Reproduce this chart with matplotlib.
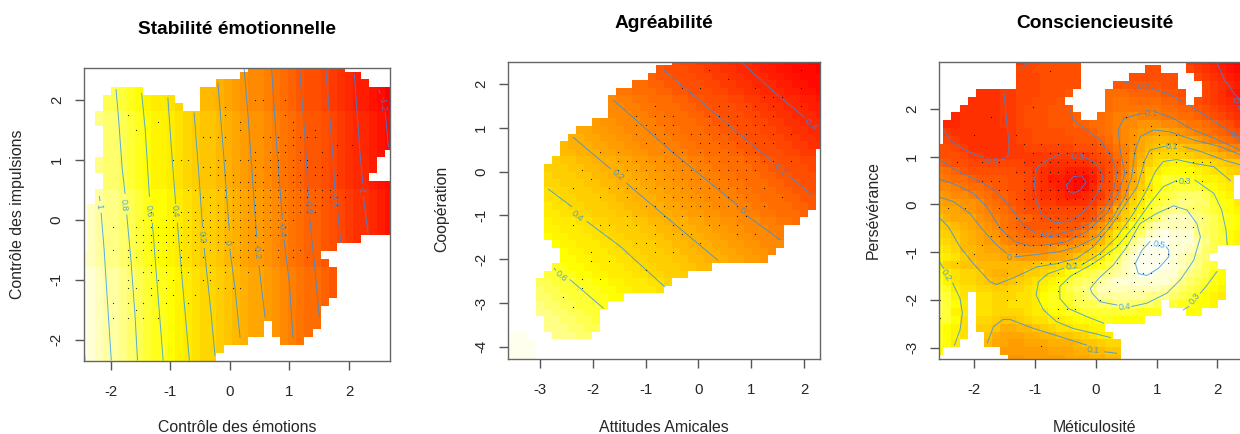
import numpy as np
import matplotlib
matplotlib.use("Agg")
import matplotlib.pyplot as plt
from matplotlib.colors import LinearSegmentedColormap

plt.rcParams["font.family"] = ["Liberation Sans", "DejaVu Sans"]
plt.rcParams["axes.unicode_minus"] = False

# -----------------------------
# Data
# -----------------------------
# surfaces: one character per grid cell, 0 = red ... q = yellow ... z = white
ALPHABET = "0123456789abcdefghijklmnopqrstuvwxyz"

stab_a = "wvuttsrqpoonmlkjjihgfeedcba988765433210"
stab_b = "xwvuutsrqpponmlkkjihgffedcba99876544321"
stab_c = "yxwvvutsrqqponmllkjihggfedcbaa987655432"
stab_d = "zyxwwvutsrrqponmmlkjihhgfedcbba98766543"
stab_rows = [stab_a] * 6 + [stab_b] * 10 + [stab_c] * 10 + [stab_d] * 13
stab_spans = [
    [(21, 32)], [(20, 34)], [(17, 35)], [(4, 7), (15, 38)], [(3, 11), (15, 38)],
    [(3, 12), (15, 38)], [(2, 38)], [(2, 38)], [(3, 38)], [(3, 38)], [(3, 38)],
    [(3, 37)], [(2, 36)], [(2, 36)], [(3, 35)], [(3, 38)], [(2, 38)], [(2, 38)],
    [(1, 38)], [(1, 38)], [(1, 38)], [(1, 38)], [(1, 34)], [(1, 31)], [(0, 29)],
    [(0, 30)], [(0, 31)], [(0, 31)], [(0, 31)], [(0, 31)], [(0, 30)], [(0, 29)],
    [(0, 29)], [(0, 22), (24, 29)], [(0, 22), (24, 28)], [(0, 20), (25, 27)],
    [(0, 17)], [(0, 16)], [(0, 16)],
]

agre_rows = [
    "hggffeeeddccbbbaa99888776655444332211100",
    "hhggffeeeddccbbbaa9988877665544433221110",
    "ihhggffeeeddccbbbaa998887766554443322111",
    "iihhggffeeeddccbbbaa99888776655444332211",
    "iiihhggffeeeddccbbbaa9988877665544433221",
    "jjiiihhggffeeeddccbbbaa99888776655444332",
    "kjjiiihhggffeeeddccbbbaa9988877665544433",
    "kkjjiiihhggffeeeddccbbbaa998887766554443",
    "lkkjjiiihhggffeeeddccbbbaa99888776655444",
    "llkkjjiiihhggffeeeddccbbbaa9988877665544",
    "lllkkjjiiihhggffeeeddccbbbaa998887766554",
    "mlllkkjjiiihhggffeeeddccbbbaa99888776655",
    "mmlllkkjjiiihhggffeeeddccbbbaa9988877665",
    "nnmmlllkkjjiiihhggffeeeddccbbbaa99888776",
    "onnmmlllkkjjiiihhggffeeeddccbbbaa9988877",
    "oonnmmlllkkjjiiihhggffeeeddccbbbaa998887",
    "ooonnmmlllkkjjiiihhggffeeeddccbbbaa99888",
    "pooonnmmlllkkjjiiihhggffeeeddccbbbaa9988",
    "ppooonnmmlllkkjjiiihhggffeeeddccbbbaa998",
    "qppooonnmmlllkkjjiiihhggffeeeddccbbbaa99",
    "qqppooonnmmlllkkjjiiihhggffeeeddccbbbaa9",
    "rrqqppooonnmmlllkkjjiiihhggffeeeddccbbba",
    "srrqqppooonnmmlllkkjjiiihhggffeeeddccbbb",
    "ssrrqqppooonnmmlllkkjjiiihhggffeeeddccbb",
    "sssrrqqppooonnmmlllkkjjiiihhggffeeeddccb",
    "tsssrrqqppooonnmmlllkkjjiiihhggffeeeddcc",
    "ttsssrrqqppooonnmmlllkkjjiiihhggffeeeddc",
    "uttsssrrqqppooonnmmlllkkjjiiihhggffeeedd",
    "uuttsssrrqqppooonnmmlllkkjjiiihhggffeeed",
    "vvuuttsssrrqqppooonnmmlllkkjjiiihhggffee",
    "vvvuuttsssrrqqppooonnmmlllkkjjiiihhggffe",
    "wvvvuuttsssrrqqppooonnmmlllkkjjiiihhggff",
    "wwvvvuuttsssrrqqppooonnmmlllkkjjiiihhggf",
    "xwwvvvuuttsssrrqqppooonnmmlllkkjjiiihhgg",
    "xxwwvvvuuttsssrrqqppooonnmmlllkkjjiiihhg",
    "yxxwwvvvuuttsssrrqqppooonnmmlllkkjjiiihh",
    "zzzxwwvvvuuttsssrrqqppooonnmmlllkkjjiiih",
    "zzzzxxwwvvvuuttsssrrqqppooonnmmlllkkjjii",
    "zzzzyxxwwvvvuuttsssrrqqppooonnmmlllkkjji",
    "zzzzyyxxwwvvvuuttsssrrqqppooonnmmlllkkjj",
]
agre_spans = [
    [(21, 39)], [(19, 39)], [(18, 39)], [(16, 39)], [(14, 39)], [(13, 39)], [(13, 39)],
    [(13, 39)], [(11, 39)], [(9, 39)], [(8, 39)], [(7, 39)], [(7, 38)], [(6, 38)],
    [(5, 38)], [(5, 38)], [(5, 38)], [(5, 38)], [(5, 38)], [(5, 38)], [(5, 37)],
    [(5, 36)], [(5, 34)], [(5, 34)], [(6, 34)], [(7, 33)], [(7, 32)], [(6, 25)],
    [(5, 22)], [(4, 20)], [(4, 19)], [(4, 14)], [(4, 12)], [(4, 11)], [(5, 11)],
    [(5, 11)], [(0, 2), (6, 10)], [(0, 3)], [(0, 3)], [(0, 3)],
]

cons_rows = [
    "6666666666" + "67788888" + "8888888888888" + "6543210",
    "7777777777" + "77888888" + "88888888" + "88" + "888" + "7654321",
    "7777777777" + "77788888" + "888888" + "888888" + "88" + "765432",
    "7777777777" + "77788888" + "8888" + "99999988" + "888" + "76543",
    "55555" + "555667778889" + "aaaa" + "bbbaaaa998" + "88" + "76532",
    "5555" + "555566778889" + "aaaaa" + "bccbbbbaa9" + "9" + "876543",
    "555" + "55555667888999" + "aaaa" + "bccccccbbaa987654",
    "44" + "455555667888999a" + "aa" + "bcddedddccbba98765",
    "4" + "4455555667888999aabbcdeefffeedccba986",
    "7" + "655555556778888999abcdefgghhgfedcba98",
    "8" + "7655555567788888999abdefhijjihhgedcba",
    "887655555667777778889acdfhjkllkjjihfed",
    "888766555" + "6666666666" + "789bd" + "gik" + "mmmm" + "lk" + "kjihg",
    "a988" + "7777777" + "666" + "55555" + "678ad" + "gjln" + "oppo" + "nnmlkk",
    "cba9" + "888888" + "7765" + "44333468ad" + "hkno" + "qqqq" + "ponnml",
    "dcbba" + "9999" + "88" + "765" + "33211" + "368" + "beh" + "koq" + "ss" + "rr" + "q" + "pp" + "o" + "nn",
    "eedcbb" + "a99" + "88" + "765" + "4321" + "14" + "78" + "ae" + "il" + "nqr" + "ssss" + "rqpoo",
    "gfeedcbaa9" + "8765543345" + "69cfknprst" + "uuutrqpo",
    "hggffecba9" + "8776655556" + "8aeimorstu" + "vvuusrqo",
    "ihhgfedcba" + "9887777778" + "bdiknprtuv" + "vuutsrqp",
    "kihhhfedcb" + "aa98888889" + "cfilorsuwx" + "xxvutsrq",
    "lkjihgfecb" + "a9999999ad" + "filnrsvxxx" + "xxvutsrq",
    "mlkjihgfdc" + "baaaaaabdf" + "hloqsuxyzy" + "yyvutsqp",
    "nmljihgged" + "ccccccdefh" + "jmprvxzzzy" + "yywvtsqp",
    "onmjjihhgf" + "eeeefgghik" + "moruxyzzzy" + "yxwutrqp",
    "ponljiiihh" + "gggghhiklm" + "ortwyzzzzy" + "xwvutsrq",
    "omlkkjjjjj" + "jjkllmmnoq" + "rtvxyzzzzy" + "xwvtsrqp",
    "qonmmljiij" + "jllmnoqrst" + "uvwxyzzyyy" + "wvutrqpo",
    "rpnmmlkjjk" + "lmnopqstuu" + "wxyyyyyyyx" + "vutsrqpo",
    "sronnmmllm" + "mnopqrtuvv" + "xxxxxxxxwv" + "utsrqpoo",
    "tspnnnnmmm" + "nnoqrrstuv" + "wwwwwwvvvu" + "tsrqpooo",
    "tsqoonnmmn" + "nnoqrrrttt" + "uuvvuuutts" + "rrqqpooo",
    "tspoonnmmm" + "mnooqqrrss" + "sssssrrrqq" + "qqqpoooo",
    "ssqnnmmlkk" + "lmnnoopqqq" + "rrqqqqpppp" + "pppppppp",
    "rqpnmllkii" + "jjklmnnoop" + "pppppppppp" + "pppppppp",
    "rqpnmlkihh" + "hiijjkklmn" + "oooooooooo" + "oooooooo",
    "rqonmljhhg" + "ghhhiiijkk" + "lmmmmmmmmm" + "mmmmmmmm",
    "qponmljhgg" + "gggghhhiij" + "jkkkkkkkkk" + "kkkkkkkk",
    "ppppppppgf" + "fggggghhhi" + "ijjjjjjjjj" + "jjjjjjjj",
]
cons_spans = [
    [(10, 17), (31, 37)], [(10, 17), (26, 27), (31, 37)], [(10, 17), (24, 29), (32, 37)],
    [(10, 17), (22, 29), (33, 37)], [(5, 16), (21, 30), (33, 37)], [(4, 15), (21, 30), (32, 37)],
    [(3, 16), (21, 37)], [(2, 17), (20, 37)], [(1, 37)], [(1, 37)], [(1, 37)], [(0, 37)],
    [(0, 37)], [(0, 37)], [(0, 37)], [(0, 36)], [(0, 36)], [(0, 36)], [(0, 37)], [(0, 37)],
    [(0, 37)], [(0, 37)], [(0, 37)], [(0, 37)], [(0, 34)], [(0, 33)], [(0, 34)], [(0, 35)],
    [(0, 35)], [(0, 35)], [(0, 3), (5, 35)], [(0, 3), (5, 27), (29, 34)], [(0, 3), (5, 27), (31, 32)],
    [(0, 3), (5, 25)], [(0, 3), (5, 20)], [(0, 3), (6, 21)], [(0, 2), (6, 22)], [(0, 0), (8, 22)],
    [(9, 22)],
]

# contour lines, (xs, ys) in data units, broken where a label sits
stab_lines = [
    ([-2.19, -2.18], [0.39, 0.32]),
    ([-2.16, -2.11, -2.06, -1.99], [0.11, -0.50, -1.28, -2.34]),
    ([-2.46, -2.43], [-2.01, -2.34]),
    ([-1.91, -1.87, -1.81, -1.76], [2.17, 1.72, 0.89, 0.44]),
    ([-1.73, -1.66, -1.59, -1.55], [0.08, -0.67, -1.62, -2.34]),
    ([-1.48, -1.42, -1.35], [2.11, 1.50, 0.39]),
    ([-1.30, -1.23, -1.12], [-0.06, -0.95, -2.34]),
    ([-1.04, -0.98, -0.91], [2.03, 1.17, 0.27]),
    ([-0.88, -0.78, -0.68], [-0.06, -1.23, -2.34]),
    ([-0.60, -0.53, -0.46], [1.78, 0.89, -0.11]),
    ([-0.43, -0.32, -0.25], [-0.48, -1.51, -2.26]),
    ([-0.20, -0.12, -0.01], [2.28, 1.28, -0.17]),
    ([0.00, 0.09, 0.17], [-0.49, -1.17, -1.96]),
    ([0.24, 0.31, 0.45], [2.53, 1.67, -0.28]),
    ([0.49, 0.59], [-0.78, -1.62]),
    ([0.70, 0.79, 0.88], [2.53, 1.17, 0.02]),
    ([0.91, 1.00, 1.06], [-0.34, -1.06, -1.96]),
    ([1.17, 1.26, 1.32], [2.53, 1.39, 0.39]),
    ([1.34, 1.43, 1.50], [0.02, -0.84, -1.62]),
    ([1.61, 1.74, 1.76], [2.53, 0.94, 0.50]),
    ([1.81, 1.86], [0.14, -0.37]),
    ([2.09, 2.18, 2.23], [2.42, 1.17, 0.61]),
    ([2.24, 2.32], [0.39, -0.23]),
    ([2.50, 2.52], [2.17, 2.11]),
    ([2.61, 2.66], [1.78, 1.22]),
]
stab_labels = [
    ("1", -2.20, 0.22, -85), ("0.8", -1.78, 0.25, -85), ("0.6", -1.36, 0.15, -85),
    ("0.4", -0.93, 0.15, -85), ("0.2", -0.47, -0.29, -85), ("0", -0.04, -0.37, -85),
    ("-0.2", 0.45, -0.53, -85), ("-0.4", 0.87, -0.16, -85), ("-0.6", 1.30, 0.22, -85),
    ("-0.8", 1.75, 0.33, -85), ("-1", 2.21, 0.50, -85), ("-1.2", 2.56, 1.94, -85),
]

agre_lines = [
    ([0.80, 1.43, 2.00], [2.51, 1.82, 1.25]),
    ([-0.66, 0.35, 1.36], [2.32, 1.29, 0.26]),
    ([1.71, 2.15], [-0.10, -0.53]),
    ([-1.61, -0.47, 0.73], [1.63, 0.42, -0.76]),
    ([0.92, 1.55], [-1.01, -1.56]),
    ([-2.37, -1.67], [0.78, 0.07]),
    ([-1.36, -0.47, 0.36], [-0.27, -1.18, -2.02]),
    ([-2.84, -2.40], [-0.40, -0.80]),
    ([-2.11, -1.48, -0.64], [-1.14, -1.71, -2.63]),
    ([-2.73, -2.70], [-2.21, -2.25]),
    ([-2.43, -1.80], [-2.47, -3.12]),
]
agre_labels = [
    ("-0.4", 2.12, 1.09, -40), ("-0.2", 1.52, 0.05, -40), ("0", 0.83, -0.90, -40),
    ("0.2", -1.53, -0.09, -40), ("0.4", -2.29, -1.01, -40), ("0.6", -2.61, -2.38, -40),
]

cons_lines = [
    ([-0.48, -0.37, -0.23, -0.16, -0.26, -0.37, -0.46, -0.48], [0.41, 0.58, 0.60, 0.46, 0.30, 0.23, 0.29, 0.41]),
    ([-0.20, -0.04, 0.08, 0.12, 0.07, -0.04, -0.23, -0.45, -0.67, -0.89, -0.98, -1.01, -0.97, -0.80, -0.56, -0.46],
     [0.99, 0.90, 0.72, 0.55, 0.34, 0.09, -0.19, -0.36, -0.38, -0.22, 0.09, 0.48, 0.76, 0.93, 1.07, 1.06]),
    ([-2.50, -2.39, -2.20, -1.98, -1.85], [1.56, 1.35, 1.18, 1.04, 0.99]),
    ([-1.58, -1.45, -1.42, -1.46, -1.51], [0.93, 1.00, 1.21, 1.70, 2.36]),
    ([-2.57, -2.39, -2.18, -1.90, -1.63, -1.41, -1.19, -1.00], [0.95, 0.79, 0.64, 0.48, 0.27, -0.05, -0.43, -0.59]),
    ([-0.64, -0.37, -0.09, 0.13, 0.29, 0.35, 0.26, 0.07, -0.15, -0.37, -0.42],
     [-0.63, -0.54, -0.40, -0.12, 0.30, 0.65, 1.00, 1.35, 1.56, 1.77, 1.98]),
    ([-2.57, -2.29, -2.01, -1.79, -1.57, -1.33, -1.08, -0.80, -0.48, -0.15, 0.18, 0.37, 0.48, 0.40, 0.37, 0.46, 0.76],
     [0.53, 0.41, 0.23, -0.05, -0.50, -0.78, -0.87, -0.85, -0.78, -0.57, -0.19, 0.23, 0.65, 1.14, 1.56, 1.80, 1.91]),
    ([1.00, 1.28, 1.55, 1.94, 2.37], [1.93, 1.80, 1.59, 1.39, 1.14]),
    ([-2.57, -2.34, -2.07, -1.85, -1.63, -1.46], [0.15, 0.06, -0.19, -0.54, -0.85, -1.03]),
    ([-1.33, -0.97, -0.59, -0.31, 0.02, 0.29, 0.48, 0.59, 0.65, 0.73, 0.95, 1.22, 1.61, 2.05, 2.37],
     [-1.10, -1.05, -0.99, -0.89, -0.68, -0.26, 0.16, 0.58, 1.14, 1.42, 1.56, 1.52, 1.35, 1.21, 1.04]),
    ([-2.57, -2.42, -2.23, -2.01, -1.74, -1.63, -1.30, -0.97, -0.64, -0.31, -0.04, 0.24, 0.46, 0.68, 0.81, 0.89, 1.14],
     [-0.28, -0.47, -0.89, -1.24, -1.62, -1.68, -1.51, -1.31, -1.24, -1.13, -0.89, -0.47, -0.05, 0.37, 0.93, 1.14, 1.22]),
    ([1.44, 1.72, 2.10, 2.37], [1.21, 1.11, 0.93, 0.83]),
    ([0.24, -0.04, -0.37, -0.64, -0.86, -0.98, -0.94, -0.78, -0.53], [-2.79, -2.70, -2.60, -2.46, -2.21, -1.90, -1.62, -1.45, -1.34]),
    ([-0.23, 0.07, 0.35, 0.62, 0.84, 0.98, 1.11, 1.33, 1.61, 1.94, 2.21],
     [-1.27, -1.03, -0.68, -0.19, 0.30, 0.69, 0.90, 0.94, 0.86, 0.79, 0.50]),
    ([2.16, 2.14, 2.07, 1.94, 1.63], [-0.85, -0.54, -0.12, 0.23, 0.51]),
    ([1.33, 1.11, 0.89, 0.62, 0.35, -0.04, -0.42, -0.59, -0.59, -0.45, -0.15, 0.13],
     [0.50, 0.37, 0.02, -0.47, -0.89, -1.24, -1.51, -1.72, -1.97, -2.18, -2.35, -2.49]),
    ([1.99, 1.83, 1.72], [-1.41, -1.69, -1.86]),
    ([1.53, 1.44], [-2.14, -2.21]),
    ([0.35, 0.07, -0.06, -0.09, 0.05, 0.29, 0.51, 0.73, 1.00, 1.28, 1.50, 1.66, 1.72, 1.61, 1.39, 1.17, 0.84, 0.59],
     [-2.11, -2.04, -1.86, -1.76, -1.55, -1.27, -0.89, -0.40, -0.19, -0.03, -0.12, -0.40, -0.68, -1.17, -1.58, -1.86, -2.07, -2.14]),
    ([0.89, 0.76, 0.65, 0.70, 0.84, 1.03, 1.20, 1.20, 1.16], [-0.78, -0.96, -1.24, -1.45, -1.49, -1.34, -1.10, -0.96, -0.89]),
    ([-2.57, -2.50], [-1.20, -1.34]),
    ([-2.35, -2.23, -2.19, -2.23, -2.32], [-1.65, -1.97, -2.28, -2.63, -2.95]),
    ([-1.78, -1.68, -1.52, -1.41, -1.02, -0.59, -0.15], [-2.90, -2.56, -2.41, -2.41, -2.60, -2.77, -2.95]),
    ([0.15, 0.34], [-3.09, -3.12]),
    ([-1.25, -1.08], [2.82, 2.99]),
    ([0.48, 0.62], [2.56, 2.52]),
    ([0.92, 1.17, 1.43], [2.43, 2.33, 2.15]),
    ([1.53, 1.83, 2.16, 2.37], [2.08, 1.84, 1.56, 1.39]),
    ([1.99, 2.10, 2.27, 2.37], [2.99, 2.64, 2.33, 2.19]),
]
cons_labels = [
    ("-0.3", -0.32, 1.00, -10), ("-0.3", -1.72, 0.91, -10), ("-0.2", -0.80, -0.64, 0),
    ("-0.1", 0.89, 1.90, 0), ("0", -1.42, -1.11, 0), ("0.1", 1.25, 1.21, 0),
    ("0.2", -0.38, -1.31, 10), ("0.3", 1.47, 0.48, 0), ("0.4", 0.47, -2.16, 5),
    ("0.5", 1.04, -0.85, -10), ("0.2", -2.46, -1.48, -60), ("0.1", -0.04, -3.05, -5),
    ("-0.2", 0.77, 2.47, -10), ("0.3", 1.63, -1.97, 50), ("-0.2", 2.30, 1.42, -30),
    ("-0.4", 2.31, 2.12, -60),
]

# observed points: for each lattice row, which lattice columns hold a dot
stab_dots = [
    [19, 20, 23], [15], [2, 15, 23], [6, 17, 24], [3, 17, 24, 27],
    [12, 13, 14, 15, 20, 21, 22, 24, 25, 26, 27], [23, 24, 30, 32], [19, 21, 22, 23, 25, 28],
    [8, 9, 10, 14, 15, 17, 18, 19, 21, 22, 24, 25, 26], [12, 13, 14, 19, 20, 21, 22, 23, 24, 26, 27, 28],
    [13, 14, 15, 16, 19, 21, 22, 23, 24, 25, 27, 28, 30], [16, 17, 18, 19, 20, 22, 24, 25],
    [10, 11, 14, 15, 16, 17, 18, 19, 20, 21, 22, 23, 24, 25, 26, 27, 28, 29],
    [12, 13, 15, 16, 17, 18, 19, 20, 21, 22, 23, 24, 25, 26, 27, 28, 29, 30, 31],
    [13, 14, 16, 17, 18, 19, 20, 21, 22, 23, 24, 25, 26, 27, 28, 30],
    [5, 8, 9, 10, 11, 13, 14, 15, 16, 17, 18, 19, 20, 21, 22, 23, 24, 25, 26, 27],
    [4, 5, 7, 8, 10, 11, 12, 13, 14, 15, 16, 17, 18, 19, 20, 21, 22, 23, 24],
    [0, 3, 5, 6, 7, 8, 9, 10, 11, 12, 13, 14, 15, 16, 17, 18, 19, 20, 21, 22, 23],
    [3, 4, 5, 6, 7, 8, 9, 10, 11, 12, 13, 14, 15, 17, 18, 19, 20, 21, 22, 23],
    [3, 4, 5, 6, 7, 8, 9, 10, 11, 12, 13, 14, 15, 16, 17, 18, 19, 20],
    [0, 2, 4, 5, 6, 7, 9, 11, 13, 14, 15, 17, 18, 19, 20, 22, 24, 25],
    [2, 3, 6, 7, 9, 10, 12, 16, 17, 18, 22, 24, 26], [2, 5, 7, 9, 11, 13, 15, 17, 20],
    [4, 5, 7, 9, 10, 13, 15, 18], [2, 6, 8, 12, 13], [2, 3, 5, 7, 14, 15, 16, 17], [5, 8, 11],
    [0, 2, 4, 7, 10], [3], [0, 2, 4, 6],
]
agre_dots = [
    [16, 26], [18], [13, 15, 21, 26], [22, 23, 24], [10, 17, 18, 20, 21, 23, 26],
    [8, 10, 11, 12, 16, 17, 18, 19, 21, 23], [8, 9, 10, 11, 12, 16, 17, 18, 19, 20, 21, 22],
    [8, 10, 11, 12, 14, 15, 16, 17, 18, 19, 20, 21, 23, 25], [9, 11, 15, 16, 17, 18, 19, 20, 21, 22, 23],
    [4, 6, 11, 12, 13, 15, 16, 17, 18, 19, 20, 21],
    [6, 7, 8, 9, 10, 11, 12, 13, 14, 15, 16, 17, 18, 19, 20, 21, 22, 23, 25],
    [2, 6, 7, 8, 9, 10, 11, 12, 13, 14, 15, 16, 17, 18, 19, 20, 21],
    [3, 8, 9, 10, 11, 12, 13, 14, 15, 16, 17, 18, 19, 20],
    [1, 5, 6, 7, 8, 9, 10, 11, 12, 13, 14, 15, 16, 17, 18, 19, 20, 22],
    [4, 7, 11, 12, 13, 14, 15, 16, 17, 18, 19, 20, 24],
    [9, 10, 11, 12, 13, 14, 15, 16, 17, 18, 19, 20, 22], [7, 8, 11, 13, 15, 16, 19, 20],
    [1, 4, 5, 7, 8, 10, 12, 13, 16, 17, 19], [10, 12, 13, 14, 19, 21], [8, 9, 10, 15], [3, 10, 12],
    [3, 5], [9], [2, 4], [2], [0], [1],
]
cons_dots = [
    [13], [], [], [], [11], [6, 22], [25], [4, 9, 23, 26, 28],
    [10, 12, 14, 16, 18, 19, 22, 23, 26, 27, 28],
    [11, 13, 14, 15, 16, 17, 18, 19, 20, 22, 23, 25, 26, 27, 28, 29],
    [2, 5, 7, 10, 11, 12, 13, 14, 15, 16, 17, 18, 19, 20, 21, 22, 24, 28, 30, 31, 32],
    [9, 10, 11, 12, 13, 14, 15, 16, 17, 18, 19, 20, 21, 22, 23, 24, 29, 30],
    [5, 6, 7, 10, 11, 12, 13, 14, 15, 16, 17, 18, 19, 20, 21, 22, 23, 28, 29, 31],
    [7, 8, 10, 11, 12, 13, 14, 15, 16, 17, 18, 19, 20, 21, 22, 24, 25, 31],
    [9, 10, 11, 12, 13, 14, 15, 16, 17, 18, 19, 20, 21, 22, 23, 24, 26, 27, 29],
    [1, 3, 7, 10, 11, 12, 13, 14, 15, 16, 17, 18, 19, 20, 21, 22, 23, 24, 25, 27, 28, 30],
    [9, 10, 11, 12, 13, 14, 15, 16, 17, 18, 19, 20, 21, 22, 23, 24, 25, 26, 27, 28, 29, 31],
    [7, 8, 9, 10, 13, 14, 15, 16, 17, 18, 19, 20, 21, 22, 23, 24, 25, 26, 27, 28, 29, 30],
    [6, 7, 8, 9, 10, 11, 12, 13, 14, 15, 16, 17, 18, 19, 20, 21, 22, 23, 25, 26, 27, 28, 29],
    [5, 9, 10, 11, 12, 13, 14, 15, 16, 17, 18, 19, 21, 22, 23, 24, 25, 26, 27, 28],
    [4, 9, 15, 18, 19, 20, 22, 23, 24, 25, 26, 27, 28, 29],
    [2, 8, 11, 12, 13, 14, 15, 16, 17, 18, 19, 21, 23, 24, 25, 26, 27, 28],
    [8, 14, 16, 20, 22, 23, 24, 25], [9, 14, 15, 18, 19, 21, 23, 25], [8, 14, 17, 20, 23, 24],
    [0, 8, 9, 16, 17, 19], [14, 15, 16], [0, 14], [], [], [12],
]

titles = ["Stabilité émotionnelle", "Agréabilité", "Consciencieusité"]
x_labels = ["Contrôle des émotions", "Attitudes Amicales", "Méticulosité"]
y_labels = ["Contrôle des impulsions", "Coopération", "Persévérance"]
x_ticks = [[-2, -1, 0, 1, 2], [-3, -2, -1, 0, 1, 2], [-2, -1, 0, 1, 2]]
y_ticks = [[-2, -1, 0, 1, 2], [-4, -3, -2, -1, 0, 1, 2], [-3, -2, -1, 0, 1, 2]]

# -----------------------------
# Drawing
# -----------------------------

W, H = 1240, 434
GRID_BLUE = "#1E90FF"
TEXT = "#262626"
heat = LinearSegmentedColormap.from_list(
    "heat", [(0, "#FF0000"), (26 / 35, "#FFFF00"), (1, "#FFFFEE")])


def decode(rows, spans, ncol):
    # turn the character rows into a masked array of levels
    z = np.ma.masked_all((len(rows), ncol))
    for i, (row, span) in enumerate(zip(rows, spans)):
        row = row.ljust(ncol, row[-1])
        for a, b in span:
            for c in range(a, b + 1):
                z[i, c] = ALPHABET.index(row[c])
    return z


def draw_panel(box, lims, grid, rows, spans, lines, labels, dots, lattice, idx, title_y,
               ylabel_x, ylabel_y, right_spine=True):
    left, right, top, bottom = box
    ax = fig.add_axes([left / W, 1 - bottom / H, (right - left) / W, (bottom - top) / H])

    x0, dx, y0, dy = grid
    ncol = max(b for span in spans for a, b in span) + 1
    z = decode(rows, spans, ncol)
    x_edges = x0 + dx * np.arange(ncol + 1)
    y_edges = y0 - dy * np.arange(len(rows) + 1)
    ax.pcolormesh(x_edges, y_edges, z, cmap=heat, vmin=0, vmax=35, shading="flat", antialiased=False)

    for xs, ys in lines:
        ax.plot(xs, ys, color=GRID_BLUE, lw=0.7, alpha=0.75, solid_joinstyle="round")
    for text, x, y, rot in labels:
        ax.text(x, y, text, color=GRID_BLUE, alpha=0.8, fontsize=6.5, rotation=rot,
                ha="center", va="center", rotation_mode="anchor", clip_on=True)

    lx0, ldx, ly0, ldy = lattice
    for i, cols in enumerate(dots):
        if cols:
            ax.plot(lx0 + ldx * np.array(cols), np.full(len(cols), ly0 - ldy * i), ls="none",
                    marker="s", ms=0.8, mew=0, color="black", alpha=0.8)

    ax.set_xlim(lims[0], lims[1])
    ax.set_ylim(lims[2], lims[3])
    ax.set_xticks(x_ticks[idx])
    ax.set_yticks(y_ticks[idx])
    ax.tick_params(axis="both", length=6.5, width=1.0, color="#555555", labelcolor=TEXT, labelsize=10.8)
    ax.tick_params(axis="x", pad=11)
    ax.tick_params(axis="y", pad=8)
    for lab in ax.get_yticklabels():
        lab.set_rotation(90)
        lab.set_va("center")
    for name, spine in ax.spines.items():
        spine.set_color("#666666")
        spine.set_linewidth(1.0)
    if not right_spine:
        ax.spines["right"].set_visible(False)

    centre = (left + right) / 2 if right_spine else 1095
    fig.text(centre / W, 1 - title_y / H, titles[idx], fontsize=13.8,
             fontweight="bold", color="black", ha="center", va="center")
    fig.text(centre / W, 1 - 428 / H, x_labels[idx], fontsize=11.4,
             color=TEXT, ha="center", va="center")
    fig.text(ylabel_x / W, 1 - ylabel_y / H, y_labels[idx],
             fontsize=11.4, color=TEXT, rotation=90, ha="center", va="center")
    return ax


fig = plt.figure(figsize=(W / 100, H / 100), dpi=100)

draw_panel((84, 390, 67.5, 361), (-2.448, 2.688, -2.356, 2.54),
           (-2.539, 0.1354, 2.603, 0.1302), stab_rows, stab_spans, stab_lines, stab_labels,
           stab_dots, (-1.955, 0.1253, 2.0, 0.1252), 0, 30, 18, 214)
draw_panel((508.3, 820, 61.7, 359), (-3.6, 2.30, -4.28, 2.51),
           (-3.677, 0.15155, 2.61, 0.174), agre_rows, agre_spans, agre_lines, agre_labels,
           agre_dots, (-2.557, 0.1727, 2.32, 0.2078), 1, 24, 442, 209)
draw_panel((939.3, 1240, 61.7, 359), (-2.57, 2.37, -3.24, 2.99),
           (-2.636, 0.13268, 3.075, 0.1640), cons_rows, cons_spans, cons_lines, cons_labels,
           cons_dots, (-2.56, 0.1387, 2.80, 0.1922), 2, 24, 873, 210, right_spine=False)

fig.savefig("out.png", dpi=100)
